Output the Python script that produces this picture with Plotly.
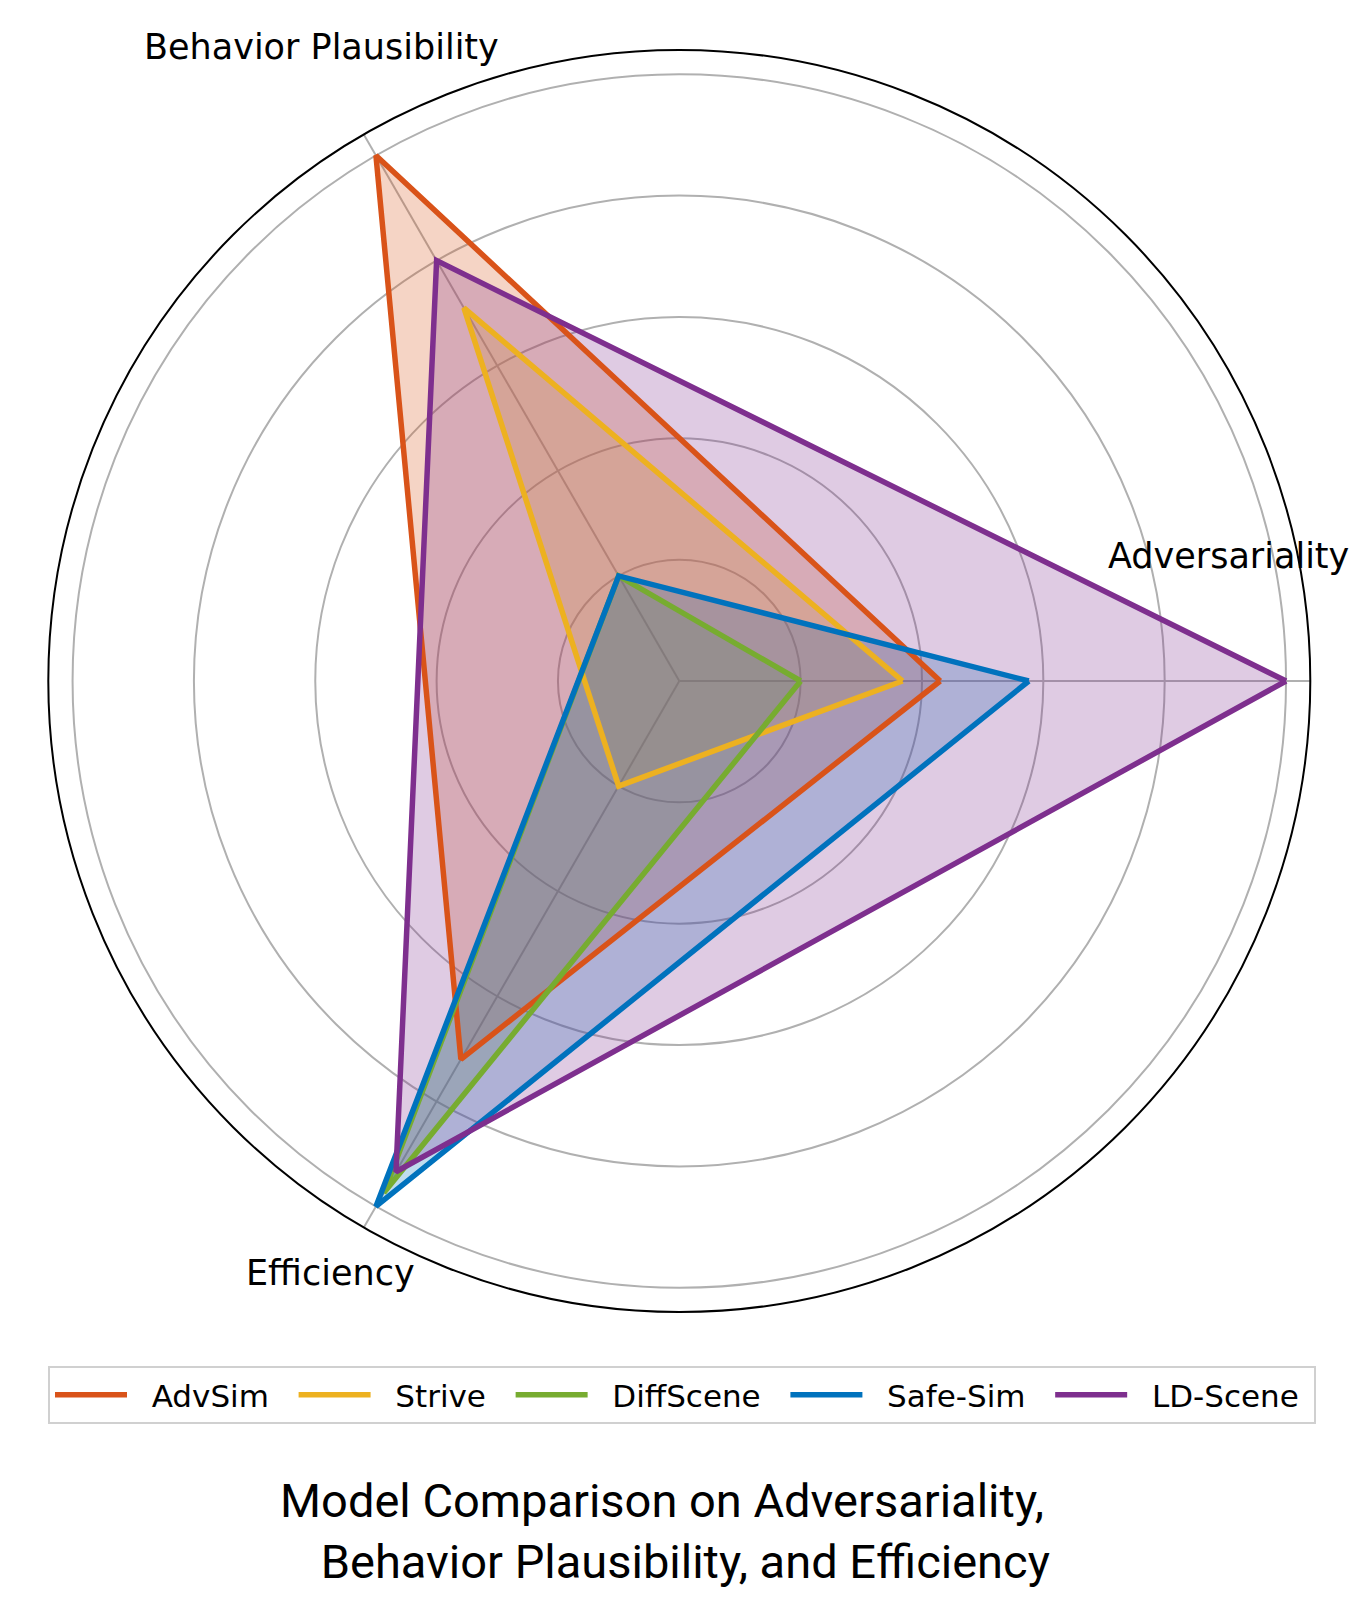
import plotly.graph_objects as go

# ---- data ----
categories = ["Adversariality", "Behavior Plausibility", "Efficiency"]
models = ["AdvSim", "Strive", "DiffScene", "Safe-Sim", "LD-Scene"]
advsim = [2.15, 5.0, 3.6]
strive = [1.84, 3.55, 1.0]
diffscene = [1.0, 1.0, 4.87]
safesim = [2.88, 1.0, 5.0]
ldscene = [5.0, 4.0, 4.67]
series = [advsim, strive, diffscene, safesim, ldscene]
colors = ["#D95319", "#EDB120", "#77AC30", "#0072BD", "#7E2F8E"]
radial_ticks = [1, 2, 3, 4, 5]
title_text = "Model Comparison on Adversariality,<br>\u00a0\u00a0\u00a0\u00a0Behavior Plausibility, and Efficiency"

W, H = 1359, 1599
NB = "\u00a0"


def rgba(hexc, a):
    hexc = hexc.lstrip("#")
    r, g, b = int(hexc[0:2], 16), int(hexc[2:4], 16), int(hexc[4:6], 16)
    return f"rgba({r},{g},{b},{a})"


fig = go.Figure()
# fills first (below all lines), like matplotlib's zorder
for name, vals, col in zip(models, series, colors):
    fig.add_trace(go.Scatterpolar(
        r=vals + vals[:1],
        theta=categories + categories[:1],
        mode="lines",
        name=name,
        fill="toself",
        fillcolor=rgba(col, 0.25),
        line=dict(color="rgba(0,0,0,0)", width=0),
        showlegend=False,
        hoverinfo="skip",
    ))
# outlines on top
for i, (name, vals, col) in enumerate(zip(models, series, colors)):
    trail = 1 if i == len(models) - 1 else 2
    fig.add_trace(go.Scatterpolar(
        r=vals + vals[:1],
        theta=categories + categories[:1],
        mode="lines",
        name=NB * 2 + name + NB * trail,
        line=dict(color=col, width=5.5),
    ))

# label positions (pixel -> paper)
label_px = {
    "Adversariality": (1228, 556),
    "Behavior Plausibility": (321, 47),
    "Efficiency": (330, 1273),
}
for cat in categories:
    px, py = label_px[cat]
    fig.add_annotation(
        x=px / W, y=1 - py / H, xref="paper", yref="paper",
        text=cat, showarrow=False, xanchor="center", yanchor="middle",
        font=dict(family="DejaVu Sans", size=35, color="black"),
    )

cx, cy, R = 679.3, 681.0, 631.0
fig.update_layout(
    width=W, height=H,
    margin=dict(l=0, r=0, t=0, b=0),
    paper_bgcolor="white",
    polar=dict(
        domain=dict(x=[(cx - R) / W, (cx + R) / W], y=[1 - (cy + R) / H, 1 - (cy - R) / H]),
        bgcolor="white",
        radialaxis=dict(
            range=[0, 5.2], tickvals=radial_ticks, showticklabels=False, ticks="",
            showline=False, gridcolor="#b0b0b0", gridwidth=1.6,
        ),
        angularaxis=dict(
            rotation=0, direction="counterclockwise", showticklabels=False, ticks="",
            showline=True, linecolor="black", linewidth=2,
            gridcolor="#b0b0b0", gridwidth=1.6,
        ),
    ),
    legend=dict(
        orientation="h", x=48 / W, y=1 - 1366 / H, xanchor="left", yanchor="top",
        font=dict(family="DejaVu Sans", size=31, color="black"),
        bordercolor="#d0d0d0", borderwidth=2, bgcolor="white",
        itemwidth=72,
    ),
    title=dict(
        text=title_text, x=662 / W, xanchor="center", xref="paper",
        y=1 - 1517 / H, yanchor="top", yref="container",
        font=dict(family="Roboto", size=47, color="black"),
    ),
)

fig.write_html("out.html")
